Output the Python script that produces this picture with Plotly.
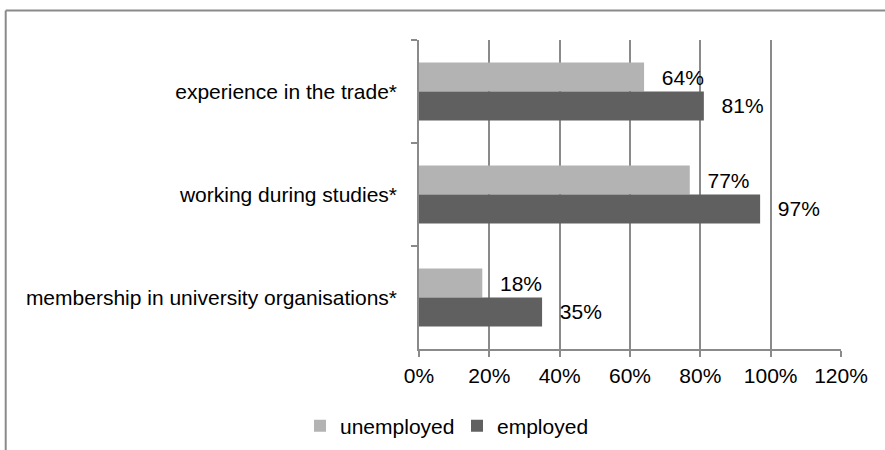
import plotly.graph_objects as go

# Share of respondents reporting each activity, by employment status
categories = [
    "experience in the trade*",
    "working during studies*",
    "membership in university organisations*",
]
unemployed = [64, 77, 18]
employed = [81, 97, 35]
x_ticks = [0, 20, 40, 60, 80, 100, 120]
x_tick_labels = [f"{t}%" for t in x_ticks]

FONT = "Arial, 'Liberation Sans', sans-serif"
FS = 21
GRID = "#8a8a8a"

# plot area in pixels: x 419..841, y 40..349
L, R, T, B = 419, 44, 40, 101
W, H = 885, 450
PW, PH = W - L - R, H - T - B


def px_x(p):
    return (p - L) / PW


def px_y(p):
    return (H - B - p) / PH


fig = go.Figure()
label_pad = "\u2002\u2009"
for name, vals, color in [
    ("unemployed", unemployed, "#b3b3b3"),
    ("employed", employed, "#606060"),
]:
    fig.add_trace(go.Bar(
        name=name,
        y=categories,
        x=vals,
        orientation="h",
        marker=dict(color=color, line=dict(width=0)),
        text=[f"{label_pad}{v}%" for v in vals],
        textposition="outside",
        constraintext="none",
        cliponaxis=False,
        textfont=dict(family=FONT, size=FS, color="#000000"),
        hoverinfo="skip",
    ))

fig.update_layout(
    width=W,
    height=H,
    margin=dict(l=L, r=R, t=T, b=B, pad=0, autoexpand=False),
    paper_bgcolor="white",
    plot_bgcolor="white",
    barmode="group",
    bargap=0.437,
    bargroupgap=0,
    font=dict(family=FONT, size=FS, color="#000000"),
    showlegend=True,
    legend=dict(
        orientation="h",
        x=px_x(300),
        xanchor="left",
        y=px_y(426),
        yanchor="middle",
        entrywidth=112,
        entrywidthmode="pixels",
        font=dict(family=FONT, size=FS, color="#000000"),
        bgcolor="rgba(0,0,0,0)",
        traceorder="normal",
    ),
    xaxis=dict(
        range=[0, 120],
        tickvals=x_ticks,
        ticktext=x_tick_labels,
        showgrid=True,
        gridcolor=GRID,
        gridwidth=1.5,
        zeroline=False,
        showline=True,
        linecolor=GRID,
        linewidth=1.5,
        ticks="outside",
        ticklen=6,
        tickwidth=1.5,
        tickcolor=GRID,
        ticklabelstandoff=1,
        tickfont=dict(family=FONT, size=FS, color="#000000"),
        fixedrange=True,
    ),
    yaxis=dict(
        autorange="reversed",
        type="category",
        showgrid=False,
        showline=True,
        linecolor=GRID,
        linewidth=1.5,
        ticks="outside",
        tickson="boundaries",
        ticklen=6,
        tickwidth=1.5,
        tickcolor=GRID,
        ticklabelstandoff=16,
        tickfont=dict(family=FONT, size=FS, color="#000000"),
        fixedrange=True,
    ),
)

# chart frame (left and top edges visible)
frame_x, frame_y = 5.7, 10.5
fig.add_shape(type="line", xref="paper", yref="paper",
              x0=px_x(frame_x), x1=px_x(frame_x),
              y0=px_y(frame_y), y1=px_y(H + 20),
              line=dict(color="#8a8a8a", width=2))
fig.add_shape(type="line", xref="paper", yref="paper",
              x0=px_x(frame_x), x1=px_x(W + 20),
              y0=px_y(frame_y), y1=px_y(frame_y),
              line=dict(color="#8a8a8a", width=2))

fig.write_html("out.html")
